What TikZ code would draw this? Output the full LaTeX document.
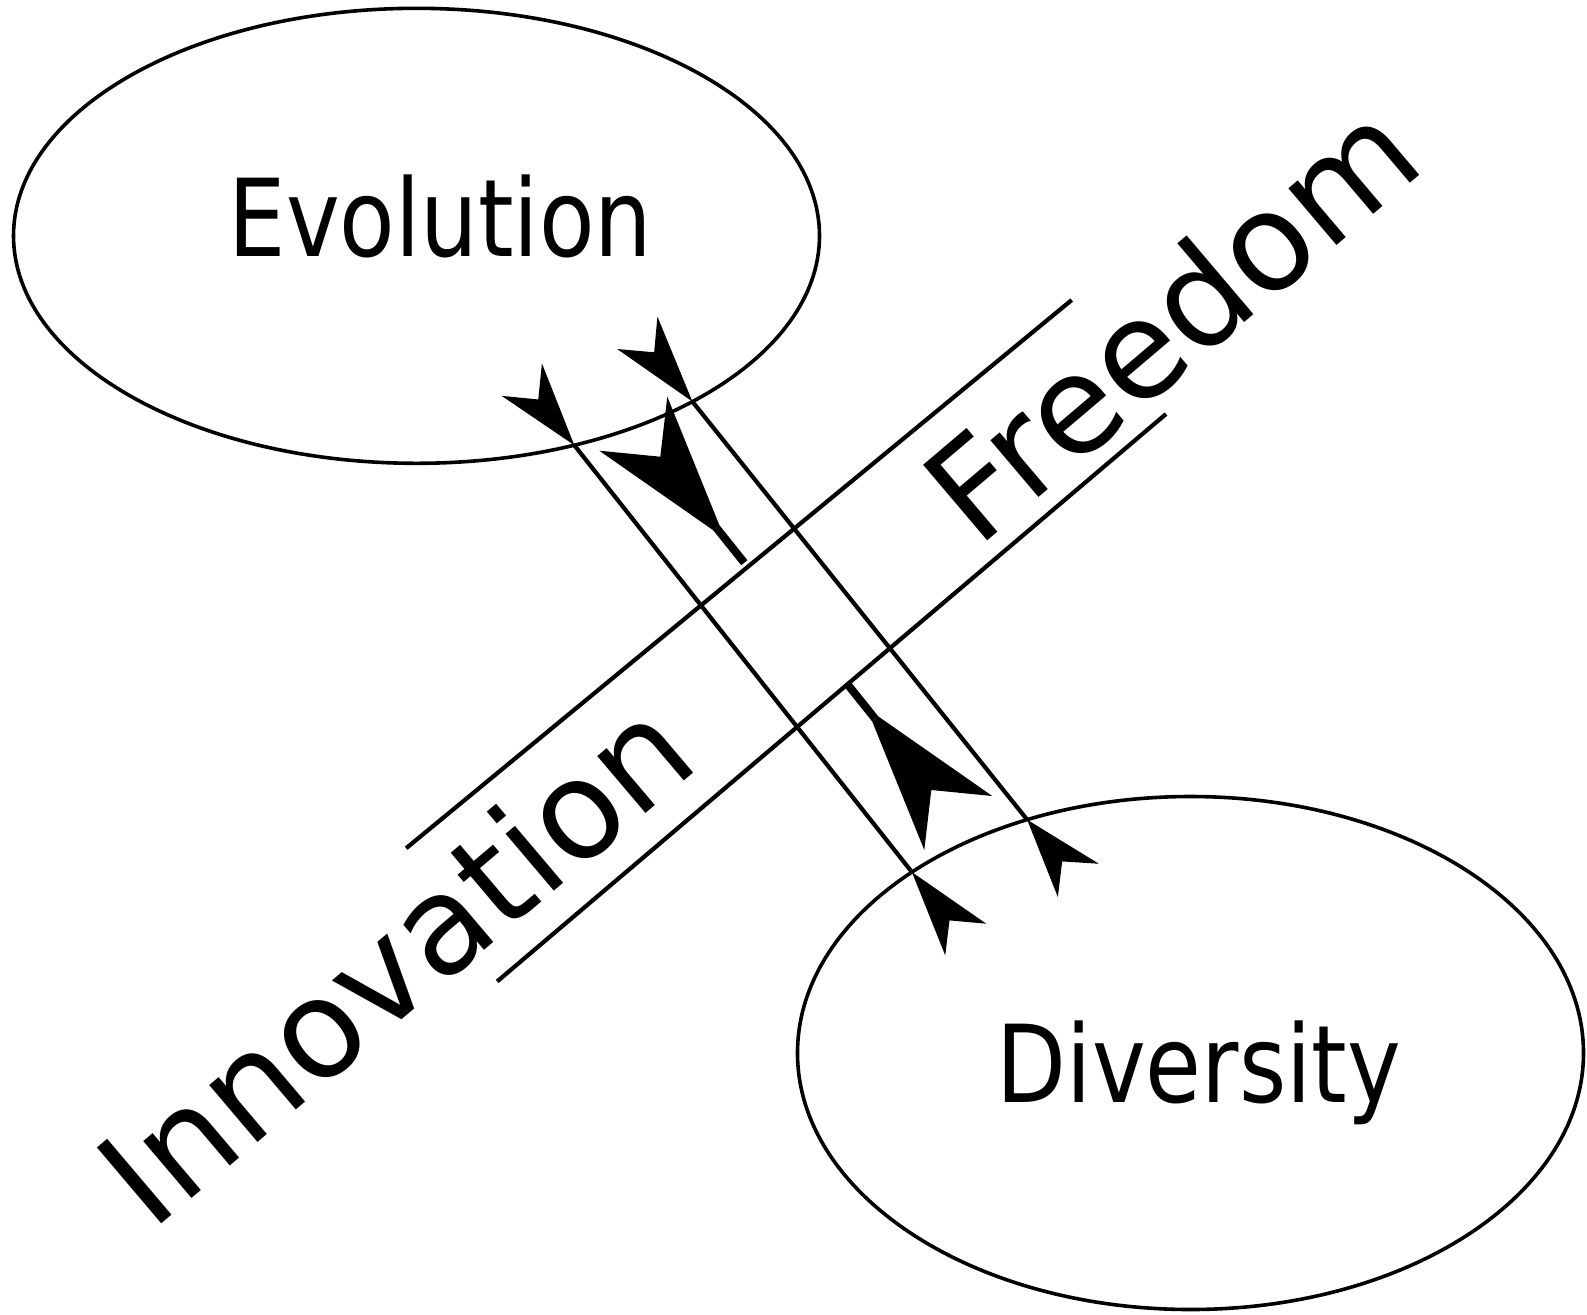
\documentclass[tikz,border=0pt]{standalone}
\usepackage{fontspec}
\newfontfamily\labelfont{DejaVu Sans}
\usetikzlibrary{shapes.geometric}
\begin{document}
\begin{tikzpicture}[%
  x=0.5pt, y=-0.5pt,
  blob/.style={%
    ellipse,
    draw=black,
    line width=1.8pt,
    inner sep=0pt,
    outer sep=0pt,
  },
  flat/.style={%
    font=\labelfont\fontsize{53.75}{60}\selectfont,
    inner sep=0pt,
    anchor=base,
  },
  slanted/.style={%
    font=\labelfont\fontsize{68}{76}\selectfont,
    inner sep=0pt,
    anchor=base,
    rotate=40.3,
  },
  thin/.style={line width=2.1pt},
  push/.style={line width=4pt},
]
  \useasboundingbox (0,0) rectangle (1587,1314);

  \node [blob, minimum width=403pt, minimum height=227.5pt] (evo) at (416.5,235.8) {};
  \node [blob, minimum width=393pt, minimum height=256.5pt] (div) at (1190.5,1053) {};
  \node [flat] (evotext) at (440.5,256.7) {\scalebox{0.845}[1]{Evolution}};
  \node [flat] (divtext) at (1199,1102.5) {\scalebox{0.845}[1]{Diversity}};

  % the band
  \coordinate (fa) at (406.2,848.2);
  \coordinate (fb) at (1071.7,300);
  \coordinate (ia) at (497.2,981.4);
  \coordinate (ib) at (1166,414);
  \draw [thin] (fa) -- (fb);
  \draw [thin] (ia) -- (ib);
  \node [slanted] (freetext) at (1203,358.5) {Freedom};
  \node [slanted, font=\labelfont\fontsize{68.25}{76}\selectfont] (innotext) at (427,999) {Innovation};

  % links between the two ellipses
  \draw [thin] (evo.-53.15) -- (div.147.06);
  \draw [thin] (evo.-31.48) -- (div.125.4);
  \fill [shift={(evo.-53.15)}] (0,0) -- (-32.3,-81.7) -- (-36,-45.7) -- (-72.6,-49.3) -- cycle;
  \fill [shift={(evo.-31.48)}] (0,0) -- (-35,-85) -- (-38.3,-49.3) -- (-75.3,-52.6) -- cycle;
  \fill [shift={(div.147.06)}] (0,0) -- (33.3,83.3) -- (37.6,48.3) -- (74.3,51.6) -- cycle;
  \fill [shift={(div.125.4)}] (0,0) -- (30.7,77.3) -- (35,41.7) -- (71.7,44) -- cycle;

  % the two short arrows
  \coordinate (pa) at (744.3,562.7);
  \coordinate (pb) at (716.3,527.7);
  \coordinate (qa) at (847.3,684);
  \coordinate (qb) at (875.3,719);
  \draw [push] (pa) -- (pb);
  \draw [push] (qa) -- (qb);
  \fill [shift={(pb)}] (3.1,-2.5) -- (-49,-131) -- (-56,-71) -- (-117,-77) -- (-3.1,2.5) -- cycle;
  \fill [shift={(qb)}] (-3.1,2.5) -- (49,131) -- (56,71) -- (117,77) -- (3.1,-2.5) -- cycle;
\end{tikzpicture}
\end{document}
